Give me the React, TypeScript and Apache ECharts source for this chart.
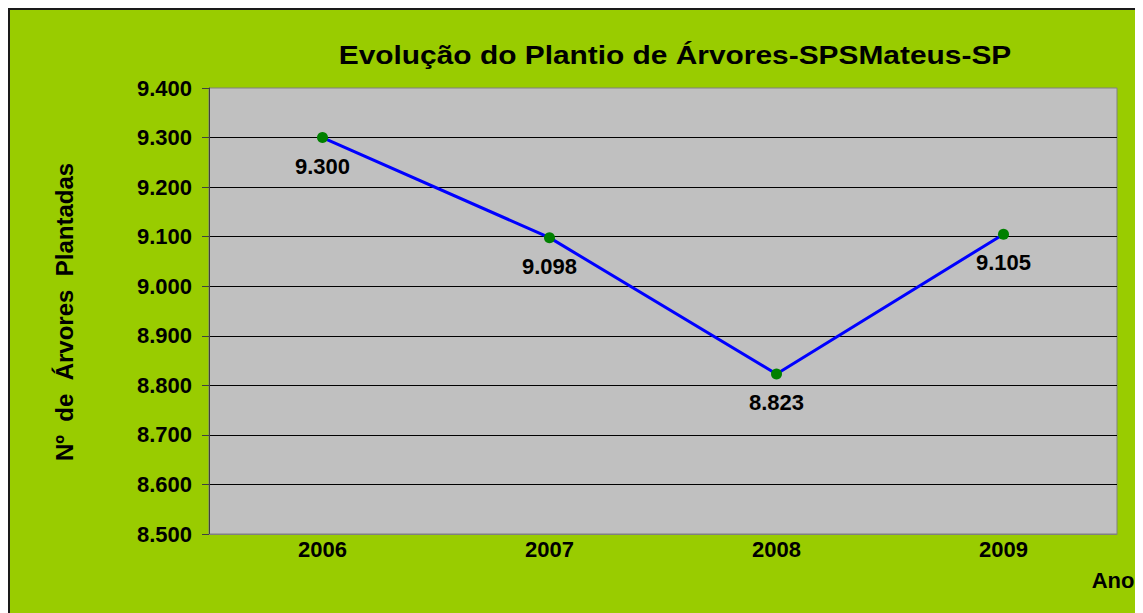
import React, { useEffect, useRef } from "react";
import * as echarts from "echarts";

const categories = ["2006", "2007", "2008", "2009"];
const values = [9300, 9098, 8823, 9105];
const yMin = 8500;
const yMax = 9400;
const yStep = 100;
const titleText = "Evolução do Plantio de Árvores-SPSMateus-SP";
const yTitle = "Nº  de  Árvores  Plantadas";
const xTitle = "Ano";

const fmt = (v: number) => (v / 1000).toFixed(3);
const FONT = "Liberation Sans, Arial, sans-serif";

export default function App() {
  const ref = useRef<HTMLDivElement>(null);
  useEffect(() => {
    if (!ref.current) return;
    const chart = echarts.init(ref.current, undefined, { renderer: "svg" });
    chart.setOption({
      animation: false,
      backgroundColor: "#99CC00",
      textStyle: { fontFamily: FONT },
      grid: {
        left: 199,
        top: 78,
        width: 908,
        height: 446,
        show: true,
        backgroundColor: "#C0C0C0",
        borderColor: "#808080",
        borderWidth: 1,
      },
      xAxis: {
        type: "category",
        data: categories,
        boundaryGap: true,
        axisLine: { show: true, lineStyle: { color: "#808080", width: 1 } },
        axisTick: { show: false },
        axisLabel: { color: "#000", fontWeight: "bold", fontSize: 22, fontFamily: FONT, margin: 4 },
        splitLine: { show: false },
      },
      yAxis: {
        type: "value",
        min: yMin,
        max: yMax,
        interval: yStep,
        axisLine: { show: true, lineStyle: { color: "#404040", width: 1 } },
        axisTick: { show: true, inside: false, length: 7, lineStyle: { color: "#404040" } },
        axisLabel: {
          color: "#000",
          fontWeight: "bold",
          fontSize: 22,
          fontFamily: FONT,
          margin: 17,
          formatter: (v: number) => fmt(v),
        },
        splitLine: {
          show: true,
          showMinLine: false,
          showMaxLine: false,
          lineStyle: { color: "#000", width: 1 },
        },
      },
      graphic: [
        {
          type: "text",
          x: 665,
          y: 45,
          scaleX: 1.15,
          style: {
            text: titleText,
            fill: "#000",
            font: `bold 26px ${FONT}`,
            textAlign: "center",
            textVerticalAlign: "middle",
          },
        },
        {
          type: "text",
          x: 54,
          y: 302,
          rotation: Math.PI / 2,
          style: {
            text: yTitle,
            fill: "#000",
            font: `bold 24px ${FONT}`,
            textAlign: "center",
            textVerticalAlign: "middle",
          },
        },
        {
          type: "text",
          x: 1103,
          y: 570,
          style: {
            text: xTitle,
            fill: "#000",
            font: `bold 22px ${FONT}`,
            textAlign: "center",
            textVerticalAlign: "middle",
          },
        },
      ],
      series: [
        {
          type: "line",
          data: values,
          lineStyle: { color: "#0000FF", width: 3 },
          itemStyle: { color: "#008000" },
          symbol: "circle",
          symbolSize: 11,
          label: {
            show: true,
            position: "bottom",
            distance: 12,
            color: "#000",
            fontWeight: "bold",
            fontSize: 22,
            fontFamily: FONT,
            formatter: (p: any) => fmt(p.value),
          },
        },
      ],
    });
    return () => chart.dispose();
  }, []);
  return (
    <div
      ref={ref}
      style={{
        width: 1135,
        height: 605,
        boxSizing: "border-box",
        borderTop: "2px solid #1a1a1a",
        borderLeft: "2px solid #1a1a1a",
      }}
    />
  );
}
